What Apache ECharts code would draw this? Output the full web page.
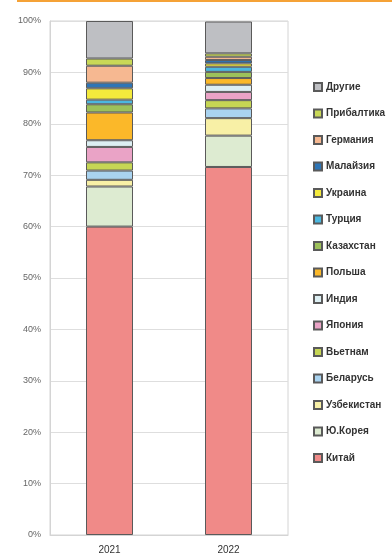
<!DOCTYPE html>
<html>
<head>
<meta charset="utf-8">
<style>
  html, body { margin: 0; padding: 0; background: #fff; }
  #chart { width: 392px; height: 560px; }
</style>
<script src="https://cdn.jsdelivr.net/npm/echarts@6/dist/echarts.min.js"></script>
</head>
<body>
<div id="chart"></div>
<script>
// Import structure by country of origin, share of total (%)
const years = ['2021', '2022'];

const china      = [60.0, 71.6];
const korea      = [7.8, 6.1];
const uzbekistan = [1.3, 3.4];
const belarus    = [1.8, 1.9];
const vietnam    = [1.6, 1.6];
const japan      = [3.0, 1.6];
const india      = [1.3, 1.4];
const poland     = [5.4, 1.3];
const kazakhstan = [1.6, 1.2];
const turkey     = [0.9, 1.0];
const ukraine    = [2.2, 0.65];
const malaysia   = [1.1, 0.65];
const germany    = [3.3, 0.65];
const baltics    = [1.4, 0.65];
const others     = [7.3, 6.2];

const yTicks = ['0%', '10%', '20%', '30%', '40%', '50%', '60%', '70%', '80%', '90%', '100%'];

// stack order, bottom to top
const seriesDefs = [
  { name: 'Китай',      data: china,      color: '#F08A88' },
  { name: 'Ю.Корея',    data: korea,      color: '#DDEBD1' },
  { name: 'Узбекистан', data: uzbekistan, color: '#F8F0A6' },
  { name: 'Беларусь',   data: belarus,    color: '#A9D3F0' },
  { name: 'Вьетнам',    data: vietnam,    color: '#C6D654' },
  { name: 'Япония',     data: japan,      color: '#EAA3C6' },
  { name: 'Индия',      data: india,      color: '#DDEFF3' },
  { name: 'Польша',     data: poland,     color: '#FBB829' },
  { name: 'Казахстан',  data: kazakhstan, color: '#9DC15A' },
  { name: 'Турция',     data: turkey,     color: '#4BB8E0' },
  { name: 'Украина',    data: ukraine,    color: '#F4EA3C' },
  { name: 'Малайзия',   data: malaysia,   color: '#2E75B6' },
  { name: 'Германия',   data: germany,    color: '#F6B891' },
  { name: 'Прибалтика', data: baltics,    color: '#C9D857' },
  { name: 'Другие',     data: others,     color: '#BEBFC3' }
];

const chart = echarts.init(document.getElementById('chart'), null, { renderer: 'canvas' });

chart.setOption({
  animation: false,
  backgroundColor: '#fff',
  graphic: [
    { type: 'rect', left: 17, top: 0, shape: { width: 380, height: 2 }, style: { fill: '#F5A236' } }
  ],
  grid: {
    left: 50, right: 104, top: 21, bottom: 25,
    show: true, borderColor: '#D4D4D4', borderWidth: 1
  },
  legend: {
    orient: 'vertical',
    left: 308, top: 77,
    icon: 'rect',
    itemWidth: 8, itemHeight: 8, itemGap: 16.5,
    data: seriesDefs.map(s => s.name).reverse(),
    textStyle: { fontFamily: 'Liberation Sans', fontSize: 10, fontWeight: 600, color: '#333', padding: [0, 0, 0, -1] }
  },
  xAxis: {
    type: 'category',
    data: years,
    axisLine: { show: true, lineStyle: { color: '#D4D4D4' } },
    axisTick: { show: false },
    axisLabel: { color: '#333', fontSize: 10, fontFamily: 'Liberation Sans', margin: 10 }
  },
  yAxis: {
    type: 'value',
    min: 0, max: 100, interval: 10,
    axisLine: { show: true, lineStyle: { color: '#D4D4D4' } },
    axisTick: { show: false },
    splitLine: { lineStyle: { color: '#DEDEDE' } },
    axisLabel: {
      color: '#666', fontSize: 9, fontFamily: 'Liberation Sans', margin: 9,
      formatter: v => yTicks[Math.round(v / 10)]
    }
  },
  series: seriesDefs.map(s => ({
    name: s.name,
    type: 'bar',
    stack: 'total',
    barWidth: 47,
    data: s.data,
    itemStyle: { color: s.color, borderColor: '#5A5A5A', borderWidth: 1 }
  }))
});
</script>
</body>
</html>
